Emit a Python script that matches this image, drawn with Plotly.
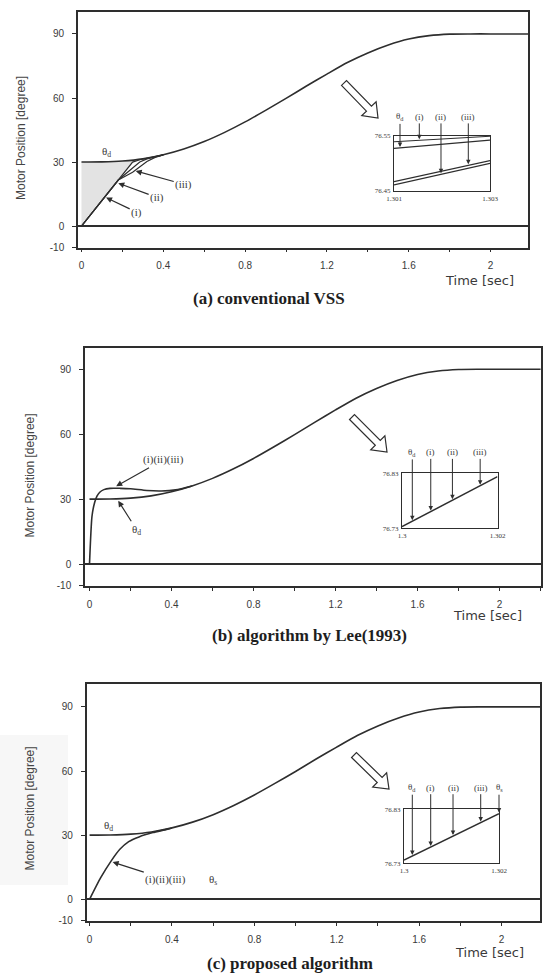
import numpy as np
import plotly.graph_objects as go

W, H = 544, 976

# ---------------- data ----------------
theta_t = [0.0, 0.1, 0.2, 0.3, 0.4, 0.5, 0.6, 0.7, 0.8, 0.9, 1.0, 1.1,
           1.2, 1.3, 1.4, 1.5, 1.6, 1.7, 1.8, 1.9, 2.0, 2.1, 2.2]
theta_d = [30.0, 30.1, 30.5, 31.5, 33.4, 36.1, 39.6, 43.9, 48.8, 54.2, 59.8, 65.6,
           71.2, 76.6, 81.1, 84.8, 87.6, 89.2, 89.9, 90.0, 90.0, 90.0, 90.0]

# (a) conventional VSS : start-up responses (i),(ii),(iii)
resp_a_t = [0.0, 0.18, 0.25, 0.285, 0.32, 0.36, 0.40]
resp_a_i = [0.0, 21.6, 30.0, 31.1, 31.8, 32.6, 33.4]
resp_a_ii = [0.0, 21.6, 27.2, 30.0, 31.5, 32.4, 33.4]
resp_a_iii = [0.0, 21.6, 25.2, 27.8, 30.3, 32.2, 33.4]

# (b) algorithm by Lee(1993)
resp_b_t = [0.0, 0.012, 0.025, 0.037, 0.05, 0.07, 0.10, 0.15, 0.20, 0.28, 0.35, 0.42, 0.50]
resp_b = [0.0, 22.0, 28.5, 31.5, 33.2, 34.4, 35.0, 35.0, 34.8, 34.0, 33.8, 34.3, 36.1]

# (c) proposed algorithm
resp_c_t = [0.0, 0.054, 0.105, 0.147, 0.19, 0.24, 0.307, 0.374, 0.40]
resp_c = [0.0, 10.1, 18.0, 23.4, 27.0, 29.2, 31.2, 32.7, 33.4]

# axis ticks
y_tick_vals = [-10, 0, 30, 60, 90]
y_tick_text = ["-10", "0", "30", "60", "90"]
x_tick_vals = [0, 0.4, 0.8, 1.2, 1.6, 2.0]
x_tick_text = ["0", "0.4", "0.8", "1.2", "1.6", "2"]
x_minor_step = 0.2

# insets
inset_a_t = [1.301, 1.303]
inset_a_d = [76.527, 76.542]
inset_a_i = [76.539, 76.549]
inset_a_ii = [76.461, 76.500]
inset_a_iii = [76.467, 76.505]
inset_a_xticks = [1.301, 1.303]
inset_a_xtext = ["1.301", "1.303"]
inset_a_yticks = [76.45, 76.55]
inset_a_ytext = ["76.45", "76.55"]

inset_bc_t = [1.300, 1.302]
inset_b_resp = [76.733, 76.824]
inset_c_resp = [76.736, 76.822]
inset_bc_xticks = [1.300, 1.302]
inset_bc_xtext = ["1.3", "1.302"]
inset_bc_yticks = [76.73, 76.83]
inset_bc_ytext = ["76.73", "76.83"]

labels_a = ["θ<sub>d</sub>", "(i)", "(ii)", "(iii)"]
ptr_a_t = [1.301125, 1.301527, 1.301979, 1.302548]
labels_b = ["θ<sub>d</sub>", "(i)", "(ii)", "(iii)"]
ptr_b_t = [1.300216, 1.300602, 1.301056, 1.301637]
labels_c = ["θ<sub>d</sub>", "(i)", "(ii)", "(iii)", "θ<sub>s</sub>"]
ptr_c_t = [1.300175, 1.300562, 1.301032, 1.301615, 1.3020]

captions = ["(a) conventional VSS", "(b) algorithm by Lee(1993)", "(c) proposed algorithm"]

# ---------------- styling / layout helpers ----------------
INK = "#2e2e2e"
TXT = "#3a3a3a"
SERIF = "Liberation Serif, Times New Roman, serif"
SANS = "Liberation Sans, Arial, sans-serif"


def dom_x(p0, p1):
    return [p0 / W, p1 / W]


def dom_y(top, bottom):
    return [1 - bottom / H, 1 - top / H]


def px(x):
    return x / W


def py(y):
    return 1 - y / H


fig = go.Figure()
LINE = dict(color=INK, width=1.6, shape="spline", smoothing=0.6)

# ----- panel (a)
base_a = np.interp(resp_a_t[:3], theta_t, theta_d)
fig.add_trace(go.Scatter(x=resp_a_t[:3], y=base_a, xaxis="x", yaxis="y", mode="lines",
                         line=dict(width=0), hoverinfo="skip", showlegend=False))
fig.add_trace(go.Scatter(x=resp_a_t[:3], y=resp_a_i[:3], xaxis="x", yaxis="y", mode="lines",
                         line=dict(width=0), fill="tonexty", fillcolor="#e3e3e3",
                         hoverinfo="skip", showlegend=False))
fig.add_trace(go.Scatter(x=theta_t, y=theta_d, xaxis="x", yaxis="y", mode="lines",
                         line=LINE, showlegend=False))
for r in (resp_a_i, resp_a_ii, resp_a_iii):
    fig.add_trace(go.Scatter(x=resp_a_t, y=r, xaxis="x", yaxis="y", mode="lines",
                             line=dict(color=INK, width=1.2), showlegend=False))

# ----- panel (b)
fig.add_trace(go.Scatter(x=theta_t, y=theta_d, xaxis="x2", yaxis="y2", mode="lines",
                         line=LINE, showlegend=False))
fig.add_trace(go.Scatter(x=resp_b_t, y=resp_b, xaxis="x2", yaxis="y2", mode="lines",
                         line=LINE, showlegend=False))

# ----- panel (c)
fig.add_trace(go.Scatter(x=theta_t, y=theta_d, xaxis="x3", yaxis="y3", mode="lines",
                         line=LINE, showlegend=False))
fig.add_trace(go.Scatter(x=resp_c_t, y=resp_c, xaxis="x3", yaxis="y3", mode="lines",
                         line=LINE, showlegend=False))

# ----- insets
for yv in (inset_a_d, inset_a_i, inset_a_ii, inset_a_iii):
    fig.add_trace(go.Scatter(x=inset_a_t, y=yv, xaxis="x4", yaxis="y4", mode="lines",
                             line=dict(color=INK, width=1.1), showlegend=False))
fig.add_trace(go.Scatter(x=inset_bc_t, y=inset_b_resp, xaxis="x5", yaxis="y5", mode="lines",
                         line=dict(color=INK, width=1.5), showlegend=False))
fig.add_trace(go.Scatter(x=inset_bc_t, y=inset_c_resp, xaxis="x6", yaxis="y6", mode="lines",
                         line=dict(color=INK, width=1.5), showlegend=False))

# ---------------- axes ----------------
panels = [
    # xdomain px, ydomain px (top,bottom), xrange, yrange
    ((78, 528), (11.5, 247.5), [-0.017, 2.183], [-10, 100.5]),
    ((85, 541), (348.2, 585.8), [-0.022, 2.202], [-10, 99.7]),
    ((86.7, 540), (684.2, 920.7), [-0.014, 2.187], [-10, 100.6]),
]
layout_axes = {}
for i, (xd, yd, xr, yr) in enumerate(panels, start=1):
    sx = "" if i == 1 else str(i)
    layout_axes["xaxis" + sx] = dict(
        domain=dom_x(*xd), range=xr, anchor="y" + sx, tickvals=x_tick_vals, ticktext=x_tick_text,
        ticks="outside", ticklen=3, tickwidth=1.2, tickcolor=INK, showline=True, linecolor=INK,
        minor=dict(tick0=0, dtick=x_minor_step, ticks="outside", ticklen=3, tickwidth=1.2,
                   tickcolor=INK, showgrid=False),
        linewidth=1.6, mirror=True, showgrid=False, zeroline=False, ticklabelstandoff=5,
        automargin=False, tickfont=dict(family=SANS, size=10, color=TXT))
    layout_axes["yaxis" + sx] = dict(
        domain=dom_y(*yd), range=yr, anchor="x" + sx, tickvals=y_tick_vals, ticktext=y_tick_text,
        ticks="outside", ticklen=4, tickwidth=1.2, tickcolor=INK, showline=True, linecolor=INK,
        linewidth=1.6, mirror=True, showgrid=False, zeroline=True, zerolinecolor=INK,
        zerolinewidth=1.6, ticklabelstandoff=6, automargin=False,
        tickfont=dict(family=SANS, size=10, color=TXT))

insets = [
    (4, (394, 490), (135.7, 191), [1.301, 1.303], [76.45, 76.55],
     inset_a_xticks, inset_a_xtext, inset_a_yticks, inset_a_ytext),
    (5, (402, 497.5), (473.3, 528.3), [1.300, 1.302], [76.73, 76.83],
     inset_bc_xticks, inset_bc_xtext, inset_bc_yticks, inset_bc_ytext),
    (6, (404, 499), (809.3, 863.3), [1.300, 1.302], [76.73, 76.83],
     inset_bc_xticks, inset_bc_xtext, inset_bc_yticks, inset_bc_ytext),
]
for n, xd, yd, xr, yr, xtv, xtt, ytv, ytt in insets:
    layout_axes["xaxis%d" % n] = dict(
        domain=dom_x(*xd), range=xr, anchor="y%d" % n, tickvals=xtv, ticktext=xtt, ticks="",
        showline=True, linecolor=INK, linewidth=1.3, mirror=True, showgrid=False, zeroline=False,
        ticklabelstandoff=0, automargin=False, tickfont=dict(family=SERIF, size=7, color=TXT))
    layout_axes["yaxis%d" % n] = dict(
        domain=dom_y(*yd), range=yr, anchor="x%d" % n, tickvals=ytv, ticktext=ytt, ticks="",
        showline=True, linecolor=INK, linewidth=1.3, mirror=True, showgrid=False, zeroline=False,
        ticklabelstandoff=1, automargin=False, tickfont=dict(family=SERIF, size=7, color=TXT))

# ---------------- annotations ----------------
ann = []
cap_pos = [(269, 298), (309, 635), (290, 963)]
time_pos = [(479, 280), (487.5, 615), (489, 952.7)]
ytitle_pos = [(21, 138), (29.5, 476), (29.5, 809)]
for cap, (cx, cy), (tx, ty), (yx, yy) in zip(captions, cap_pos, time_pos, ytitle_pos):
    ann.append(dict(text="<b>%s</b>" % cap, x=px(cx), y=py(cy), xref="paper", yref="paper",
                    xanchor="center", yanchor="middle", showarrow=False,
                    font=dict(family=SERIF, size=17, color="#1e1e1e")))
    ann.append(dict(text="Time [sec]", x=px(tx), y=py(ty), xref="paper", yref="paper",
                    xanchor="center", yanchor="middle", showarrow=False,
                    font=dict(family="DejaVu Sans, sans-serif", size=13, color=TXT)))
    ann.append(dict(text="Motor Position [degree]", x=px(yx), y=py(yy), xref="paper", yref="paper",
                    xanchor="center", yanchor="middle", showarrow=False, textangle=-90,
                    font=dict(family=SANS, size=12, color="#444444")))

AFONT = dict(family=SERIF, size=11, color=TXT)


def arrow_ann(text, xa, ya, tip_t, tip_y, lab_t, lab_y, font=AFONT):
    return dict(text=text, x=tip_t, y=tip_y, xref=xa, yref=ya, axref=xa, ayref=ya,
                ax=lab_t, ay=lab_y, showarrow=True, arrowhead=2, arrowsize=1.0,
                arrowwidth=1.2, arrowcolor=INK, font=font)


# (a) labels
ann.append(dict(text="θ<sub>d</sub>", x=0.123, y=34.5, xref="x", yref="y", showarrow=False,
                font=AFONT))
ann.append(arrow_ann("(i)", "x", "y", 0.12, float(np.interp(0.12, resp_a_t, resp_a_i)) - 1.0,
                     0.27, 6.5))
ann.append(arrow_ann("(ii)", "x", "y", 0.18, float(np.interp(0.18, resp_a_t, resp_a_ii)) - 1.5,
                     0.37, 13.4))
ann.append(arrow_ann("(iii)", "x", "y", 0.265, float(np.interp(0.265, resp_a_t, resp_a_iii)) - 0.5,
                     0.5, 19.6))
# (b) labels
ann.append(arrow_ann("(i)(ii)(iii)", "x2", "y2", 0.13, float(np.interp(0.13, resp_b_t, resp_b)) + 1.0,
                     0.36, 48.2))
ann.append(arrow_ann("θ<sub>d</sub>", "x2", "y2", 0.14, float(np.interp(0.14, theta_t, theta_d)) - 1.0,
                     0.23, 15.9))
# (c) labels
ann.append(dict(text="θ<sub>d</sub>", x=0.09, y=34.5, xref="x3", yref="y3", showarrow=False,
                font=AFONT))
ann.append(arrow_ann("(i)(ii)(iii)", "x3", "y3", 0.112, float(np.interp(0.112, resp_c_t, resp_c)) - 1.5,
                     0.37, 9.4))
ann.append(dict(text="θ<sub>s</sub>", x=0.60, y=9.0, xref="x3", yref="y3", showarrow=False,
                font=AFONT))

# inset arrows
IFONT = dict(family=SERIF, size=9, color=TXT)
inset_ptrs = [
    ("x4", "y4", labels_a, ptr_a_t, [inset_a_d, inset_a_i, inset_a_ii, inset_a_iii], 76.584, inset_a_t),
    ("x5", "y5", labels_b, ptr_b_t, [inset_b_resp] * 4, 76.868, inset_bc_t),
    ("x6", "y6", labels_c, ptr_c_t, [inset_c_resp] * 5, 76.870, inset_bc_t),
]
for xa, ya, labs, pts, lines, lab_y, tt in inset_ptrs:
    for lab, pt, ln in zip(labs, pts, lines):
        tip = float(np.interp(pt, tt, ln))
        ann.append(dict(text=lab, x=pt, y=tip, xref=xa, yref=ya, axref=xa, ayref=ya,
                        ax=pt, ay=lab_y, showarrow=True, arrowhead=2, arrowsize=0.9,
                        arrowwidth=1.0, arrowcolor=INK, standoff=1, font=IFONT))

# ---------------- hollow pointer arrows ----------------
pointer_arrows = [((344, 83), (378, 118)), ((352, 417), (387, 452)), ((354, 755), (389, 789))]


def block_arrow(tail, tip, shw=3.5, hhw=10.0, hlen=13.0):
    t = np.array(tail, float)
    h = np.array(tip, float)
    u = (h - t) / np.linalg.norm(h - t)
    nrm = np.array([-u[1], u[0]])
    b = h - u * hlen
    pts = [t + nrm * shw, b + nrm * shw, b + nrm * hhw, h, b - nrm * hhw, b - nrm * shw, t - nrm * shw]
    return "M " + " L ".join("%.5f,%.5f" % (px(p[0]), py(p[1])) for p in pts) + " Z"


shapes = []
for tail, tip in pointer_arrows:
    shapes.append(dict(type="path", path=block_arrow(tail, tip), xref="paper", yref="paper",
                       line=dict(color=INK, width=1.2), fillcolor="white", layer="above"))
shapes.append(dict(type="rect", xref="paper", yref="paper", x0=0, x1=px(68), y0=py(885), y1=py(735),
                   fillcolor="#f7f7f7", line=dict(width=0), layer="below"))

fig.update_layout(
    width=W, height=H, margin=dict(l=0, r=0, t=0, b=0, pad=0, autoexpand=False),
    paper_bgcolor="white", plot_bgcolor="rgba(0,0,0,0)", showlegend=False,
    annotations=ann, shapes=shapes, **layout_axes)

fig.write_html("out.html", config={"displayModeBar": False},
               post_script="document.body.style.margin='0';document.body.style.overflow='hidden';")
